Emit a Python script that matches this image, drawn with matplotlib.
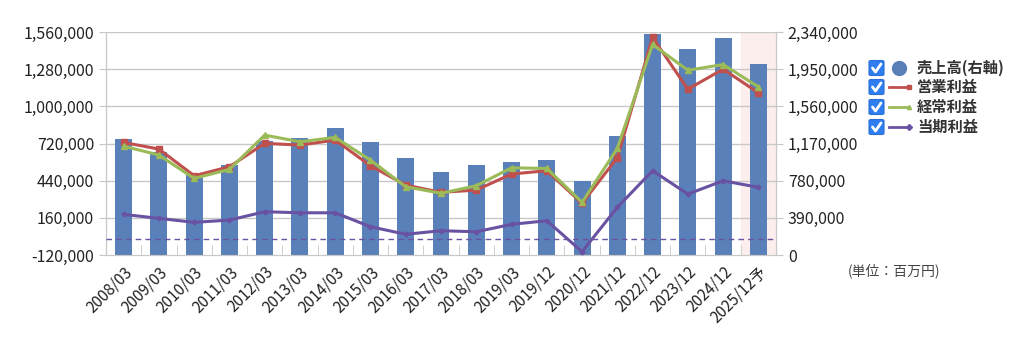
import matplotlib.pyplot as plt
from matplotlib.patches import FancyBboxPatch
from matplotlib.lines import Line2D
from matplotlib.ticker import FuncFormatter

plt.rcParams['font.family'] = ['Noto Sans CJK JP', 'DejaVu Sans']

# -------------------------
# Data (単位: 百万円)
# -------------------------
periods = [
    "2008/03", "2009/03", "2010/03", "2011/03", "2012/03", "2013/03",
    "2014/03", "2015/03", "2016/03", "2017/03", "2018/03", "2019/03",
    "2019/12", "2020/12", "2021/12", "2022/12", "2023/12", "2024/12",
    "2025/12予",
]

sales = [
    1213000, 1083000, 839000, 943000, 1198000, 1223000,
    1335000, 1181000, 1017000, 873000, 943000, 971000,
    999000, 776000, 1251000, 2317000, 2160000, 2272000,
    1999000,
]

operating = [
    728000, 678000, 477000, 545000, 721000, 708000,
    746000, 552000, 407000, 352000, 369000, 490000,
    515000, 269000, 613000, 1519000, 1129000, 1280000,
    1102000,
]

ordinary = [
    700000, 633000, 457000, 525000, 783000, 733000,
    766000, 595000, 394000, 345000, 402000, 537000,
    532000, 277000, 683000, 1466000, 1272000, 1315000,
    1147000,
]

net = [
    186000, 156000, 126000, 143000, 206000, 198000,
    198000, 93000, 36000, 63000, 55000, 111000,
    138000, -95000, 239000, 515000, 339000, 439000,
    390000,
]

left_ticks = [-120000, 160000, 440000, 720000, 1000000, 1280000, 1560000]
right_ticks = [0, 390000, 780000, 1170000, 1560000, 1950000, 2340000]

series_names = ["売上高(右軸)", "営業利益", "経常利益", "当期利益"]

# colours
c_bar = "#5a80b9"
c_red = "#c0504d"
c_green = "#9bbb59"
c_purple = "#6a52a3"
c_grid = "#c8c8c8"
c_text = "#222222"

fig = plt.figure(figsize=(10.24, 3.38), dpi=100)
ax = fig.add_axes([106 / 1024, 1 - 255 / 338, 670 / 1024, 223 / 338])
ax2 = ax.twinx()

x = list(range(len(periods)))

# bars on right axis (drawn below the lines)
ax2.set_ylim(right_ticks[0], right_ticks[-1])
ax2.set_yticks(right_ticks)
ax2.axvspan(len(periods) - 1.5, len(periods) - 0.5, color="#fdeeee", zorder=0)
for t in left_ticks[1:]:
    ax2.axhline(
        (t - left_ticks[0]) / (left_ticks[-1] - left_ticks[0]) * right_ticks[-1],
        color=c_grid, linewidth=1, zorder=1,
    )
ax2.bar(x, sales, width=0.48, color=c_bar, zorder=2)

# lines on left axis, drawn on top
ax.set_zorder(ax2.get_zorder() + 1)
ax.patch.set_visible(False)
ax2.patch.set_visible(True)
ax2.patch.set_facecolor("white")
ax.set_ylim(left_ticks[0], left_ticks[-1])
ax.set_yticks(left_ticks)

ax.plot(x, operating, color=c_red, linewidth=2.2, marker="s", markersize=4, zorder=4)
ax.plot(x, ordinary, color=c_green, linewidth=2.2, marker="^", markersize=4.5, zorder=5)
ax.plot(x, net, color=c_purple, linewidth=2.2, marker="D", markersize=2.5, zorder=3)
ax.axhline(0, color=c_purple, linewidth=1, linestyle=(0, (4, 3)), zorder=3)

ax.set_xlim(-0.5, len(periods) - 0.5)
ax.set_xticks(x)
ax.set_xticklabels(periods, rotation=45, ha="right", rotation_mode="anchor",
                   fontsize=11, color=c_text)
ax.set_xticks([i + 0.5 for i in x[:-1]], minor=True)
ax.tick_params(axis="x", which="major", length=0, pad=6)
ax.tick_params(axis="x", which="minor", direction="in", length=7, color=c_grid)

fmt = FuncFormatter(lambda v, p: f"{int(v):,}")
ax.yaxis.set_major_formatter(fmt)
ax2.yaxis.set_major_formatter(fmt)
ax.tick_params(axis="y", length=5, color=c_grid, labelsize=11.5, labelcolor=c_text)
ax2.tick_params(axis="y", length=5, color=c_grid, labelsize=11.5, labelcolor=c_text)

for a in (ax, ax2):
    for s in a.spines.values():
        s.set_color(c_grid)
    a.spines["top"].set_visible(False)

# legend with check boxes
rows_y = [68, 87, 107, 127]
for i, (name, y) in enumerate(zip(series_names, rows_y)):
    fy = 1 - y / 338
    box = FancyBboxPatch((869 / 1024, fy - 7.5 / 338), 15 / 1024, 15 / 338,
                         boxstyle="round,pad=0,rounding_size=0.003",
                         transform=fig.transFigure, facecolor="#2f7ef0",
                         edgecolor="#2a6fd6", linewidth=0.8)
    fig.patches.append(box)
    fig.lines.append(Line2D([872.5 / 1024, 875.5 / 1024, 881 / 1024],
                            [fy, fy - 4 / 338, fy + 4 / 338],
                            transform=fig.transFigure, color="white",
                            linewidth=2, solid_capstyle="round"))
    if i == 0:
        fig.lines.append(Line2D([899 / 1024], [fy], transform=fig.transFigure,
                                marker="o", markersize=10, color=c_bar))
    else:
        col, mk = [(c_red, "s"), (c_green, "^"), (c_purple, "D")][i - 1]
        fig.lines.append(Line2D([889 / 1024, 909 / 1024], [fy, fy],
                                transform=fig.transFigure, color=col,
                                linewidth=2, marker=mk, markersize=3,
                                markevery=[1]))
    fig.text(917 / 1024, fy, name, fontsize=11, fontweight="bold",
             color="#333333", va="center", ha="left")

fig.text(848 / 1024, 1 - 271 / 338, "(単位：百万円)", fontsize=10,
         color="#444444", va="center", ha="left")

fig.savefig("out.png", dpi=100)
